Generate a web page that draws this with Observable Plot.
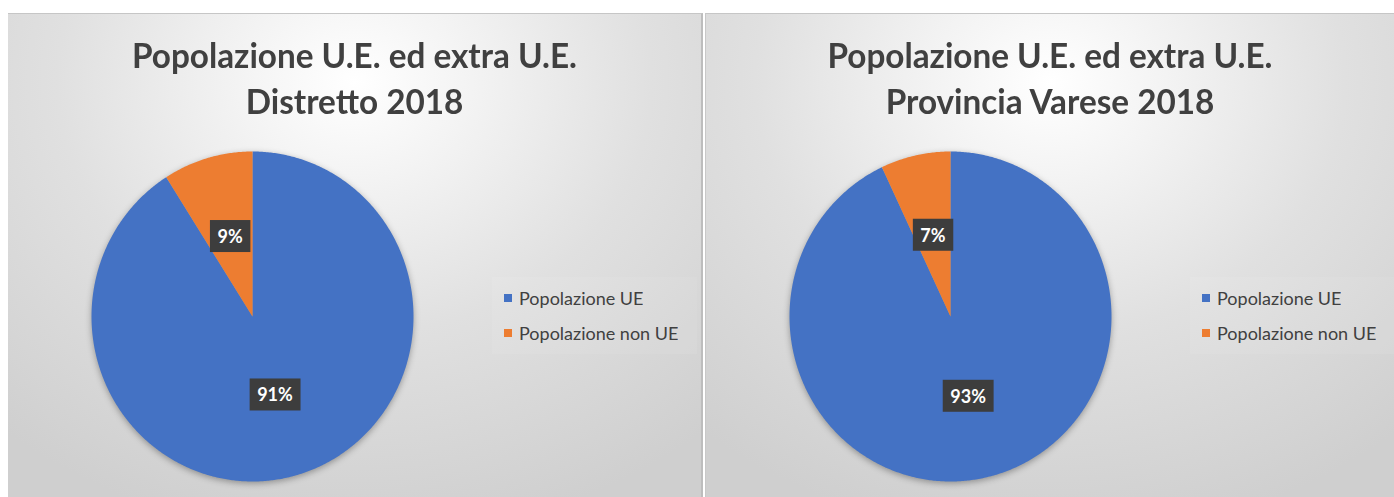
<!DOCTYPE html>
<html><head><meta charset="utf-8">
<script src="https://cdn.jsdelivr.net/npm/d3@7"></script>
<script src="https://cdn.jsdelivr.net/npm/@observablehq/plot@0.6"></script>
<style>
html,body{margin:0;padding:0;background:#fff;width:1394px;height:497px;overflow:hidden;font-family:Lato,"Open Sans",sans-serif;}
.panel{position:absolute;top:13px;height:484px;box-sizing:border-box;overflow:hidden;
  background:radial-gradient(ellipse 78% 95% at 50% 14%, #ffffff 0%, #f4f4f4 20%, #e0e0e0 55%, #cfcfcf 100%);
  border-top:1px solid #c6c6c6;}
#p0{left:8px;width:695px;border-right:2px solid #bdbdbd;}
#p1{left:705px;width:689px;border-left:1px solid #c8c8c8;}
.title{position:absolute;left:0;right:0;top:17px;text-align:center;font-weight:700;font-size:35px;line-height:46px;color:#404040;transform-origin:50% 0;}
.title div{white-space:nowrap}
.chart{position:absolute;left:0;top:0;}
.legbox{position:absolute;left:484px;top:263px;width:205px;height:77px;background:rgba(255,255,255,0.07);}
.legwrap{position:absolute;left:496px;top:273px;}
.lg-swatches{margin:0 !important;min-height:0 !important;}
.lg-swatch{margin:0 0 13px 0 !important;padding:0 !important;height:22px;line-height:22px;}
.lg-swatch svg{margin-right:7px !important;}
g[aria-label="line"]{filter:drop-shadow(0px 2px 3px rgba(0,0,0,0.32));}
</style>
</head><body>
<div id="p0" class="panel"></div>
<div id="p1" class="panel"></div>
<script>
const categories = ["Popolazione UE", "Popolazione non UE"];
const colors = ["#4472C4", "#ED7D31"];
const distrettoValues = [91, 9];
const vareseValues = [93, 7];
const titles = [
  ["Popolazione U.E. ed extra U.E.", "Distretto 2018"],
  ["Popolazione U.E. ed extra U.E.", "Provincia Varese 2018"]
];

function slicePoints(values) {
  const table = categories.map((c, i) => ({cat: c, value: values[i]}));
  const arcs = d3.pie().sort(null).value(d => d.value)(table);
  const pts = [];
  const labels = [];
  for (const a of arcs) {
    pts.push({cat: a.data.cat, x: 0, y: 0});
    const n = Math.max(2, Math.ceil((a.endAngle - a.startAngle) / (Math.PI / 360)));
    for (let k = 0; k <= n; k++) {
      const t = a.startAngle + (a.endAngle - a.startAngle) * k / n;
      pts.push({cat: a.data.cat, x: Math.sin(t), y: Math.cos(t)});
    }
    const mid = (a.startAngle + a.endAngle) / 2;
    labels.push({x: 0.5 * Math.sin(mid), y: 0.5 * Math.cos(mid), text: a.data.value + "%"});
  }
  return {pts, labels};
}

function drawPanel(id, values, titleLines, width) {
  const panel = document.getElementById(id);
  const {pts, labels} = slicePoints(values);
  const H = 483;
  const chart = Plot.plot({
    width: width, height: H,
    marginLeft: 83, marginRight: width - 405,
    marginTop: 137, marginBottom: H - 467,
    x: {domain: [-1, 1], axis: null},
    y: {domain: [-1, 1], axis: null},
    color: {domain: categories, range: colors},
    style: {background: "transparent", overflow: "visible"},
    marks: [
      Plot.line(pts, {x: "x", y: "y", z: "cat", fill: "cat", stroke: "none", curve: "linear-closed"}),
      Plot.text(labels, {x: "x", y: "y", text: "text", fill: "white", fontWeight: "bold", fontSize: 18, fontFamily: "Lato, sans-serif"})
    ]
  });
  chart.classList.add("chart");
  panel.appendChild(chart);

  const t = document.createElement("div");
  t.className = "title";
  titleLines.forEach(l => { const d = document.createElement("div"); const s = document.createElement("span"); s.textContent = l; d.appendChild(s); t.appendChild(d); });
  panel.appendChild(t);

  const lb = document.createElement("div"); lb.className = "legbox"; panel.appendChild(lb);
  const lw = document.createElement("div"); lw.className = "legwrap";
  const leg = Plot.legend({color: {domain: categories, range: colors}, legend: "swatches", columns: 1, swatchSize: 8, className: "lg",
    style: {fontFamily: "Lato, sans-serif", fontSize: "18px", color: "#404040"}});
  lw.appendChild(leg);
  panel.appendChild(lw);

  // fit title width
  const w = t.querySelector("span").getBoundingClientRect().width;
  t.style.transform = `scaleX(${445 / w})`;

  // label boxes
  chart.querySelectorAll("text").forEach(tx => {
    let b;
    try { b = tx.getBBox(); } catch (e) { b = null; }
    if (!b || !b.width) {
      const len = tx.textContent.length;
      const tr = tx.parentNode.getAttribute("transform") || "";
      b = {x: +tx.getAttribute("x") - len * 5, y: +tx.getAttribute("y") - 11, width: len * 10, height: 22};
    }
    const r = document.createElementNS("http://www.w3.org/2000/svg", "rect");
    const padX = 7.5, h = 32;
    r.setAttribute("x", b.x - padX);
    r.setAttribute("y", b.y + b.height / 2 - h / 2);
    r.setAttribute("width", b.width + 2 * padX);
    r.setAttribute("height", h);
    r.setAttribute("fill", "#3d3d3d");
    if (tx.getAttribute("transform")) r.setAttribute("transform", tx.getAttribute("transform"));
    tx.parentNode.insertBefore(r, tx);
  });
}

drawPanel("p0", distrettoValues, titles[0], 693);
drawPanel("p1", vareseValues, titles[1], 688);
</script>
</body></html>
